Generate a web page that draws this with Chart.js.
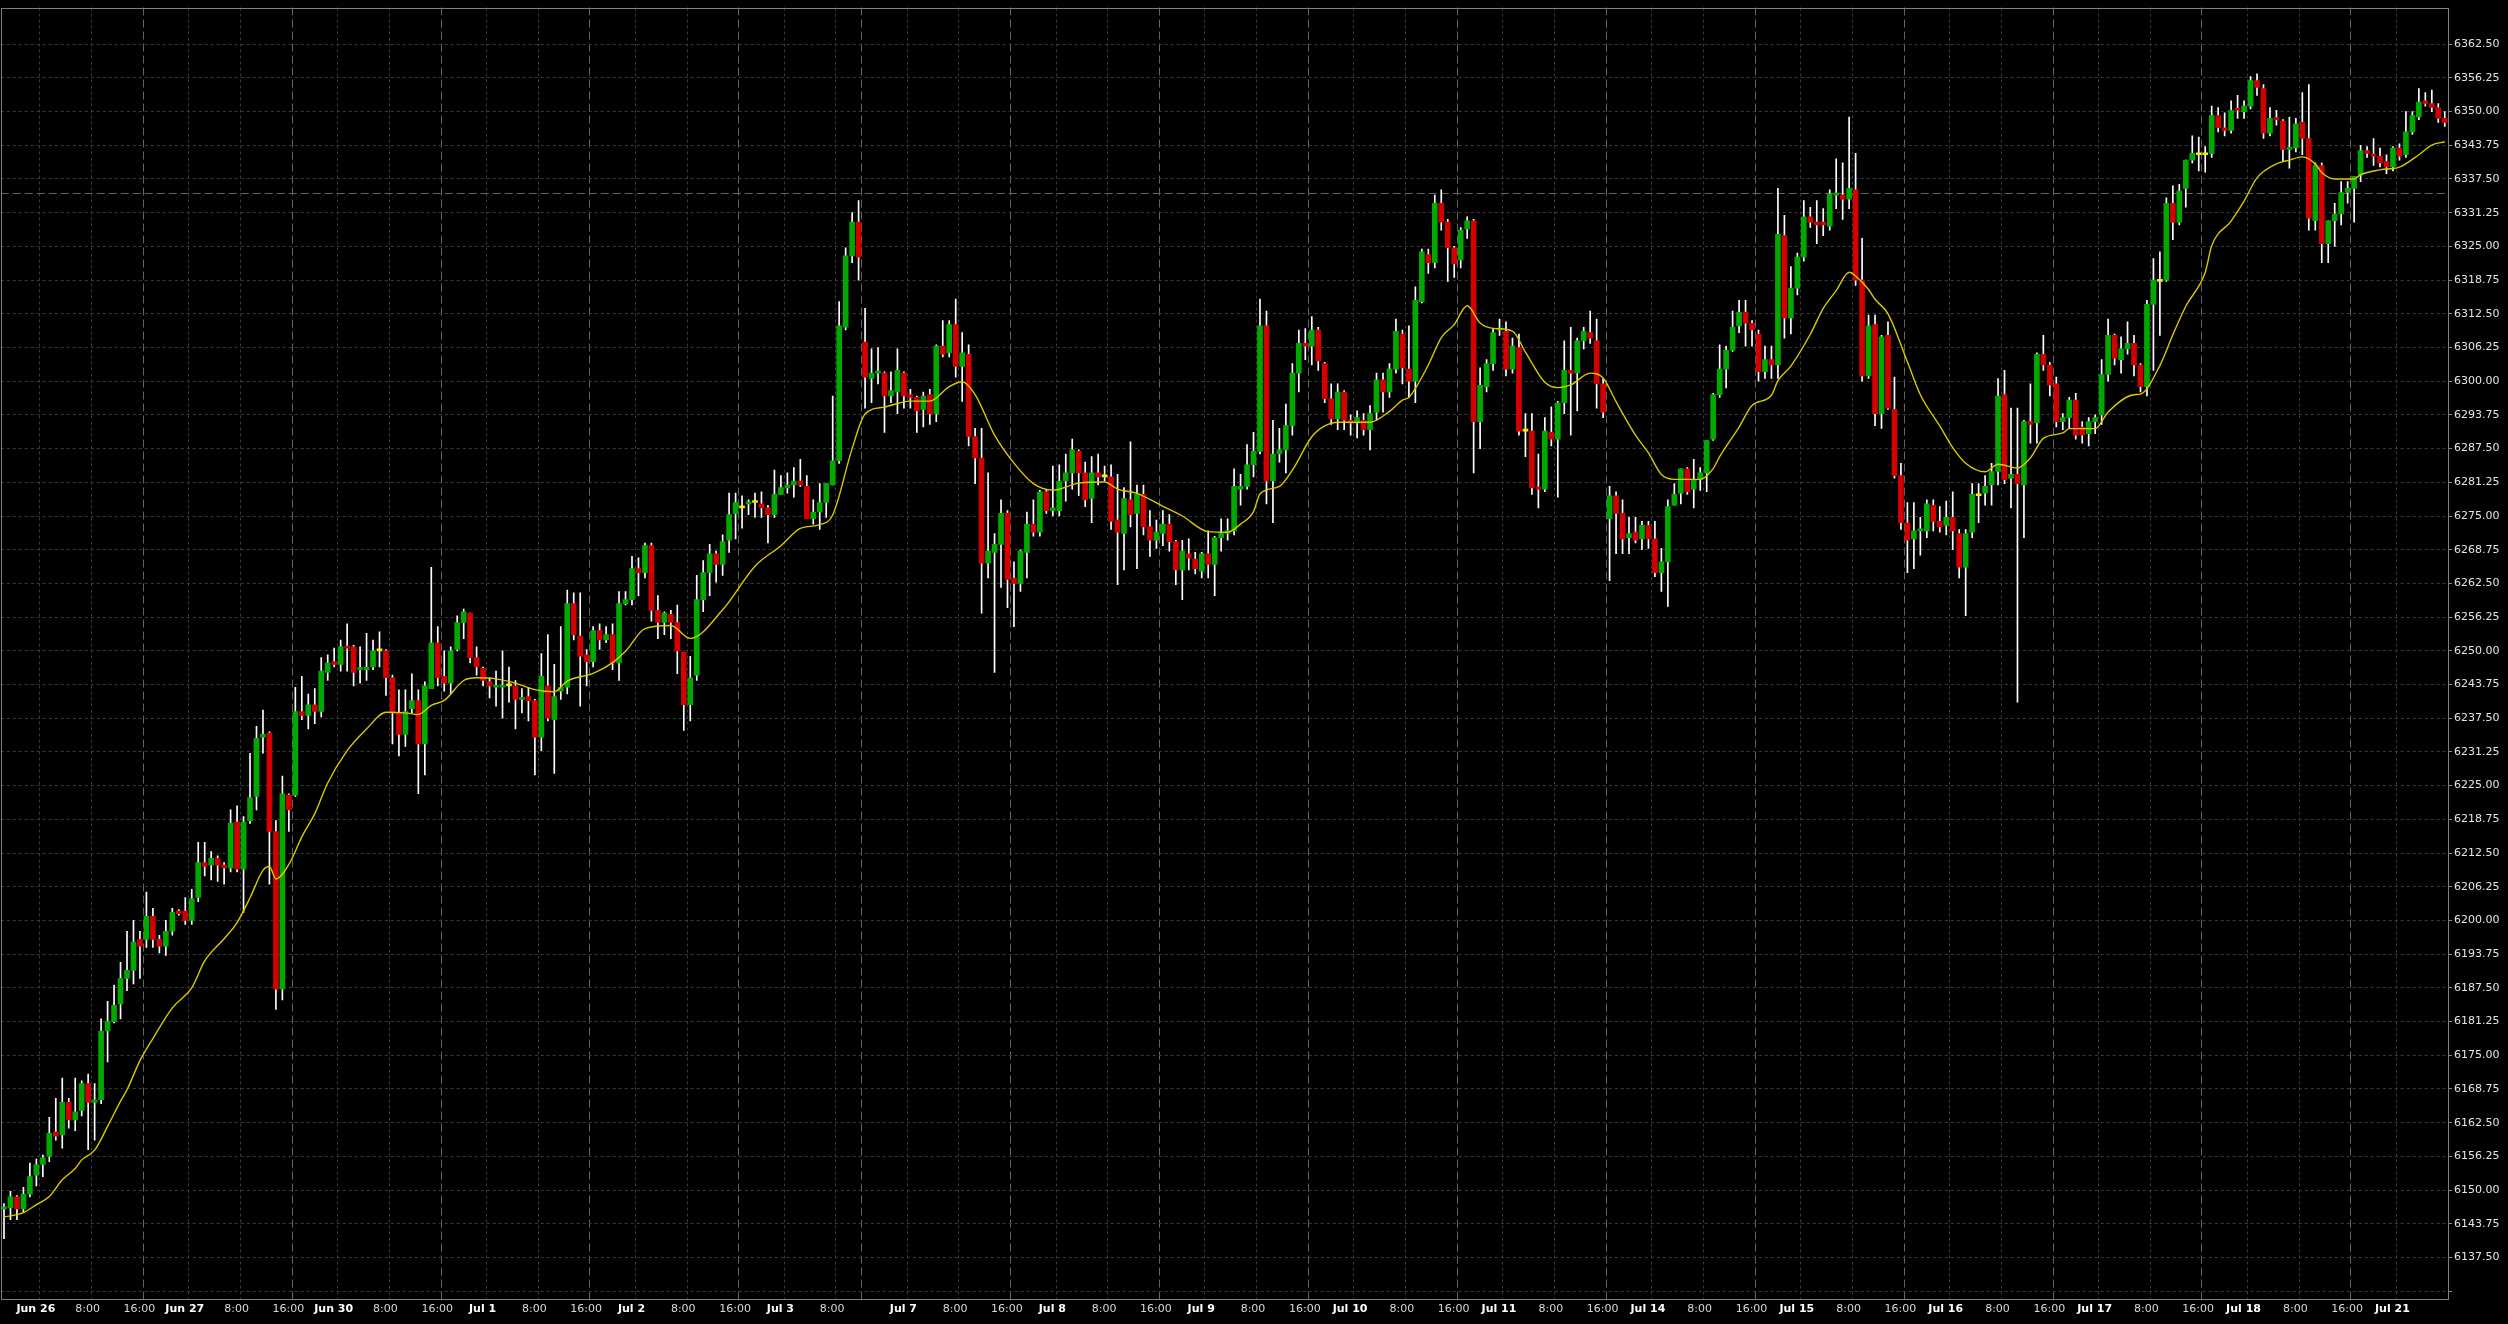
<!DOCTYPE html>
<html><head><meta charset="utf-8">
<script src="https://cdn.jsdelivr.net/npm/chart.js@4.4.1/dist/chart.umd.min.js"></script>
<style>html,body{margin:0;padding:0;background:#000;overflow:hidden}canvas{display:block}</style>
</head><body>
<canvas id="c" width="2508" height="1324"></canvas>
<script>
// ---- hourly candles (Jun 25 evening .. Jul 21) ----
const open = [
6146.5,6146.75,6148.75,6146.5,6149.25,6152.75,6154.75,6156.25,6160.75,6160.25,
6166.25,6163.0,6164.75,6169.75,6166.25,6166.75,6179.5,6181.25,6184.5,6189.25,
6190.75,6196.5,6196.5,6200.75,6196.5,6195.25,6198.0,6201.75,6201.75,6200.0,
6204.25,6210.75,6210.25,6211.5,6210.25,6209.75,6218.25,6209.5,6218.5,6223.0,
6234.0,6234.75,6216.5,6187.25,6223.25,6223.25,6238.75,6238.0,6240.0,6238.75,
6246.0,6248.0,6247.5,6250.75,6250.75,6246.5,6246.5,6247.0,6250.0,6250.0,
6245.0,6238.5,6234.5,6239.25,6240.75,6232.75,6243.0,6251.5,6245.25,6244.0,
6250.25,6255.25,6257.0,6248.75,6246.75,6244.25,6243.25,6243.25,6243.5,6243.5,
6241.0,6241.5,6240.75,6234.0,6243.5,6237.25,6242.5,6243.25,6258.75,6252.75,
6249.25,6248.0,6253.75,6252.0,6253.0,6247.75,6258.75,6259.5,6265.25,6264.5,
6269.5,6257.5,6255.25,6256.75,6255.25,6249.75,6240.0,6245.5,6259.5,6264.5,
6268.0,6266.0,6270.5,6275.5,6276.5,6277.25,6277.5,6277.25,6276.5,6275.25,
6279.0,6280.25,6280.75,6281.5,6280.5,6274.5,6275.75,6277.5,6280.75,6285.25,
6310.0,6323.25,6329.5,6307.25,6300.5,6301.5,6301.5,6297.25,6298.0,6301.5,
6297.5,6297.0,6294.75,6297.5,6294.0,6306.5,6305.25,6310.5,6302.75,6305.0,
6289.75,6285.75,6266.25,6268.25,6269.75,6275.5,6263.5,6262.5,6268.25,6273.5,
6272.0,6279.5,6276.0,6276.0,6281.5,6283.0,6287.0,6283.0,6278.25,6283.0,
6282.25,6282.25,6274.25,6271.75,6278.0,6275.5,6279.0,6273.0,6270.5,6271.75,
6273.5,6270.25,6265.0,6268.0,6267.0,6264.75,6268.0,6266.0,6271.0,6271.75,
6272.25,6280.0,6280.5,6284.5,6287.0,6310.25,6281.5,6286.5,6287.25,6291.75,
6301.5,6307.0,6306.5,6309.5,6303.25,6296.75,6293.0,6298.0,6292.75,6292.25,
6292.75,6291.0,6294.25,6300.25,6298.0,6302.25,6308.75,6302.25,6300.0,6314.75,
6323.5,6322.0,6333.0,6329.5,6324.75,6322.5,6328.25,6329.75,6292.5,6299.0,
6303.25,6309.5,6309.25,6302.25,6306.25,6290.75,6290.75,6280.25,6280.0,6290.5,
6289.25,6296.0,6302.0,6301.5,6307.5,6309.0,6307.5,6299.5,6274.5,6278.75,
6275.5,6271.0,6272.0,6270.75,6273.25,6270.75,6264.5,6266.5,6277.0,6279.25,
6283.75,6280.0,6281.75,6283.0,6289.25,6297.5,6302.25,6305.75,6310.25,6312.75,
6310.75,6308.75,6301.75,6304.0,6303.0,6327.0,6311.75,6317.25,6323.0,6330.5,
6329.5,6329.5,6328.75,6334.5,6334.5,6333.75,6335.5,6318.75,6301.0,6310.5,
6294.0,6308.5,6294.75,6282.5,6273.75,6270.75,6272.25,6272.25,6277.0,6274.0,
6273.25,6274.75,6271.75,6265.5,6272.0,6278.75,6279.25,6280.75,6283.25,6297.5,
6282.0,6282.75,6280.75,6292.5,6292.25,6305.0,6303.0,6299.5,6292.5,6293.25,
6296.5,6291.5,6290.25,6292.5,6293.75,6301.25,6308.5,6304.0,6306.0,6307.0,
6303.0,6299.0,6314.25,6318.5,6318.75,6333.0,6329.5,6335.75,6341.0,6342.0,
6342.0,6342.25,6349.25,6347.0,6346.5,6350.5,6350.0,6351.0,6355.75,6354.25,
6346.0,6348.75,6348.25,6343.0,6343.25,6348.0,6345.0,6329.75,6340.0,6325.5,
6329.75,6331.0,6335.0,6335.75,6338.25,6342.75,6342.0,6341.75,6340.75,6339.75,
6343.25,6342.0,6346.25,6349.0,6352.0,6351.5,6350.75,6348.75];
const high = [
6147.5,6149.75,6149.0,6150.5,6155.0,6155.75,6156.5,6163.5,6167.0,6170.75,
6167.0,6170.75,6170.25,6171.5,6169.75,6181.75,6185.0,6188.0,6192.25,6198.0,
6200.0,6198.0,6205.25,6202.25,6197.25,6200.0,6202.25,6202.0,6204.25,6205.75,
6214.5,6214.5,6212.75,6212.0,6210.75,6220.5,6221.25,6219.25,6231.0,6236.0,
6239.0,6235.0,6218.5,6226.75,6223.5,6243.25,6245.25,6242.0,6243.0,6248.75,
6249.25,6250.5,6252.0,6255.0,6251.0,6250.75,6253.25,6252.0,6253.5,6250.25,
6245.5,6242.75,6242.75,6245.75,6242.75,6244.25,6265.5,6254.5,6250.0,6250.75,
6256.5,6257.75,6257.0,6250.75,6247.0,6245.0,6246.25,6250.0,6247.0,6244.5,
6243.0,6243.25,6241.0,6249.5,6253.0,6247.5,6254.5,6261.25,6260.75,6260.75,
6250.25,6254.5,6255.0,6254.5,6255.0,6261.0,6261.0,6267.5,6267.25,6270.0,
6270.0,6260.25,6257.25,6257.5,6258.5,6249.75,6249.0,6264.0,6266.75,6269.75,
6268.5,6271.5,6279.25,6279.25,6278.75,6278.0,6279.25,6279.5,6277.0,6283.5,
6282.5,6283.0,6284.0,6285.5,6282.5,6278.0,6281.0,6281.0,6297.25,6314.75,
6324.75,6331.25,6333.5,6313.5,6306.0,6306.25,6301.75,6301.75,6306.0,6301.75,
6298.5,6297.25,6298.0,6298.5,6306.75,6311.25,6311.25,6315.25,6309.0,6306.75,
6291.25,6291.25,6283.0,6271.75,6278.0,6276.0,6266.5,6268.75,6275.75,6278.0,
6279.75,6279.75,6284.25,6284.5,6286.5,6289.25,6287.25,6285.0,6286.0,6286.5,
6284.25,6284.5,6282.75,6280.25,6288.75,6280.75,6280.75,6276.0,6274.25,6276.0,
6275.25,6270.5,6270.5,6270.75,6268.25,6268.25,6272.25,6271.25,6274.5,6274.5,
6283.75,6282.75,6288.25,6290.5,6315.25,6313.0,6292.75,6291.25,6295.75,6303.25,
6309.5,6309.75,6312.0,6310.0,6303.5,6299.5,6299.5,6298.25,6293.75,6294.5,
6294.0,6295.5,6301.5,6301.5,6303.25,6311.5,6309.5,6310.25,6317.5,6324.5,
6324.5,6334.5,6335.5,6330.0,6325.0,6328.5,6330.5,6330.0,6302.5,6304.0,
6309.75,6311.5,6311.0,6308.0,6308.75,6294.0,6294.0,6286.5,6293.25,6295.25,
6296.25,6307.5,6310.0,6308.0,6310.0,6313.0,6311.5,6300.5,6280.5,6279.5,
6278.0,6274.75,6274.75,6274.0,6274.0,6274.0,6269.0,6278.0,6281.0,6283.75,
6284.0,6285.5,6284.0,6289.0,6297.75,6306.75,6306.5,6313.0,6315.0,6315.0,
6311.25,6309.5,6306.5,6306.5,6335.75,6330.75,6321.25,6323.75,6333.5,6332.25,
6333.5,6332.0,6335.5,6341.25,6340.5,6349.0,6342.25,6326.5,6312.25,6312.25,
6308.5,6311.0,6300.75,6284.75,6277.5,6277.5,6274.75,6278.0,6278.0,6276.75,
6277.75,6279.5,6272.5,6272.5,6281.0,6281.0,6282.5,6284.75,6300.5,6302.0,
6295.0,6295.0,6292.75,6299.5,6305.25,6308.5,6303.5,6300.75,6294.0,6297.0,
6297.75,6292.5,6293.25,6293.75,6304.0,6311.5,6308.75,6308.25,6311.0,6308.5,
6303.25,6315.0,6322.75,6324.0,6334.0,6336.25,6336.5,6341.0,6345.5,6345.25,
6343.5,6351.0,6350.75,6349.75,6352.0,6353.0,6352.0,6356.5,6357.0,6355.0,
6350.75,6350.25,6348.5,6349.0,6348.75,6353.5,6355.0,6340.5,6340.5,6329.75,
6333.0,6337.0,6337.0,6338.0,6343.75,6343.5,6345.0,6343.25,6342.0,6343.5,
6344.0,6350.0,6350.0,6354.25,6353.5,6354.0,6351.5,6350.0];
const low = [
6141.0,6144.5,6144.5,6146.0,6148.75,6150.75,6152.5,6155.25,6159.25,6157.75,
6161.5,6161.0,6163.75,6157.5,6159.25,6166.0,6173.75,6181.0,6181.75,6187.0,
6188.25,6189.25,6195.0,6195.0,6194.0,6193.5,6197.25,6201.0,6199.25,6199.25,
6203.5,6208.25,6207.5,6207.25,6206.75,6209.0,6209.0,6201.5,6218.0,6220.5,
6231.0,6206.75,6183.5,6185.25,6216.5,6223.0,6237.25,6235.5,6236.5,6237.75,
6244.5,6247.0,6246.25,6246.25,6243.5,6244.0,6244.5,6246.5,6247.0,6241.75,
6232.75,6230.5,6232.25,6238.5,6223.5,6227.0,6243.0,6243.5,6242.5,6242.0,
6250.0,6252.25,6247.75,6245.5,6243.5,6241.25,6239.75,6237.5,6240.5,6235.5,
6238.5,6237.0,6227.0,6231.5,6237.0,6227.25,6241.0,6242.0,6252.0,6239.75,
6243.5,6247.0,6250.25,6251.5,6246.5,6244.5,6258.5,6258.5,6260.25,6263.5,
6255.5,6252.25,6253.0,6252.25,6245.75,6235.25,6237.0,6244.5,6257.25,6260.25,
6262.75,6264.0,6268.25,6270.75,6272.75,6275.25,6274.75,6274.75,6270.0,6274.75,
6279.0,6279.25,6278.5,6280.5,6274.5,6273.5,6272.5,6274.75,6280.75,6284.75,
6309.5,6322.0,6318.75,6295.0,6296.0,6299.5,6290.5,6296.0,6294.0,6295.0,
6295.0,6290.5,6291.5,6292.0,6292.5,6304.5,6304.5,6300.75,6296.25,6288.0,
6281.0,6257.0,6263.5,6246.0,6261.75,6258.0,6254.5,6261.0,6263.5,6271.25,
6271.25,6275.5,6275.0,6275.0,6277.75,6280.0,6278.75,6276.75,6273.75,6280.75,
6281.5,6272.5,6262.25,6265.0,6273.0,6265.25,6271.5,6267.5,6269.0,6269.5,
6268.5,6262.25,6259.5,6265.0,6264.25,6263.5,6263.5,6260.25,6268.5,6270.5,
6271.5,6277.0,6280.0,6282.25,6286.5,6277.25,6273.75,6285.0,6283.0,6290.0,
6298.0,6304.0,6303.0,6302.0,6296.0,6292.0,6291.0,6291.0,6290.0,6289.5,
6290.0,6287.25,6292.75,6294.25,6297.0,6301.5,6299.5,6297.0,6296.0,6314.5,
6320.0,6321.0,6328.0,6318.5,6319.25,6321.0,6326.5,6283.0,6287.5,6298.0,
6302.0,6308.5,6301.0,6301.5,6290.0,6286.0,6279.0,6276.5,6279.5,6288.0,
6278.5,6294.0,6290.0,6294.5,6306.0,6307.0,6295.0,6293.25,6263.0,6268.0,
6268.0,6268.0,6270.0,6268.75,6269.0,6263.75,6261.0,6258.25,6277.0,6277.25,
6279.0,6276.5,6279.75,6279.5,6289.0,6297.0,6298.75,6305.5,6309.0,6306.5,
6306.5,6300.0,6300.5,6300.5,6300.5,6308.0,6308.75,6316.0,6322.25,6328.5,
6325.5,6327.0,6328.0,6332.0,6330.0,6332.0,6317.75,6300.0,6300.5,6291.75,
6291.25,6294.75,6282.0,6272.5,6264.5,6265.25,6267.75,6271.0,6272.25,6272.0,
6271.5,6268.75,6263.5,6256.5,6271.0,6273.75,6277.0,6277.0,6280.75,6281.0,
6276.5,6240.5,6271.0,6288.5,6288.5,6302.0,6297.25,6291.5,6291.0,6291.25,
6289.25,6288.5,6288.0,6290.25,6292.0,6300.0,6303.0,6301.5,6305.0,6301.0,
6298.0,6297.25,6302.0,6308.5,6318.5,6326.25,6329.0,6332.25,6340.5,6339.0,
6338.75,6341.5,6346.25,6345.5,6346.0,6348.75,6348.75,6350.5,6353.0,6345.0,
6345.5,6347.5,6340.75,6339.5,6342.5,6342.0,6328.0,6328.0,6322.0,6322.0,
6325.0,6329.0,6333.0,6329.5,6337.0,6341.5,6340.0,6339.75,6338.5,6339.0,
6341.0,6341.5,6345.75,6348.5,6351.0,6350.0,6348.0,6347.25];
const close = [
6146.75,6148.75,6146.5,6149.25,6152.5,6154.75,6156.0,6160.5,6160.0,6166.25,
6163.0,6164.5,6169.75,6166.25,6166.75,6179.5,6181.25,6184.25,6189.25,6190.75,
6196.0,6195.25,6200.75,6196.5,6195.25,6198.0,6201.5,6201.25,6200.0,6204.0,
6210.75,6210.0,6211.5,6210.25,6209.75,6218.0,6209.5,6218.25,6222.75,6233.75,
6234.5,6216.5,6187.25,6223.5,6220.5,6238.75,6238.0,6240.0,6238.75,6246.25,
6247.75,6247.5,6250.75,6250.5,6246.0,6246.75,6247.0,6250.0,6250.0,6245.0,
6238.5,6234.5,6238.75,6240.75,6232.75,6243.5,6251.5,6245.0,6244.0,6250.0,
6255.25,6257.25,6248.75,6247.0,6244.5,6243.5,6243.5,6243.5,6243.5,6241.0,
6241.25,6240.75,6234.0,6245.25,6237.5,6241.5,6243.25,6258.75,6253.0,6249.0,
6248.0,6253.75,6252.0,6253.0,6247.75,6258.75,6259.5,6265.25,6264.5,6269.5,
6257.5,6255.25,6257.0,6255.25,6250.0,6240.0,6245.0,6259.5,6264.5,6268.0,
6266.0,6270.25,6275.25,6277.5,6276.5,6277.5,6277.5,6276.5,6275.25,6279.0,
6280.25,6280.75,6281.5,6280.75,6274.5,6275.75,6277.5,6281.0,6285.25,6310.25,
6323.25,6329.5,6323.0,6300.75,6301.5,6301.75,6297.25,6298.25,6302.0,6297.25,
6297.0,6294.5,6297.25,6294.0,6306.5,6305.0,6310.5,6302.75,6305.25,6289.75,
6285.75,6266.25,6268.5,6269.75,6275.5,6263.25,6262.5,6268.5,6273.5,6272.0,
6279.5,6276.0,6276.5,6281.5,6283.0,6287.25,6283.0,6278.0,6283.0,6282.25,
6282.25,6274.0,6272.0,6278.25,6275.25,6279.0,6273.0,6270.5,6272.0,6273.5,
6270.25,6265.0,6268.5,6267.25,6265.25,6268.0,6266.0,6271.0,6271.75,6272.25,
6280.5,6280.5,6284.5,6287.0,6310.25,6281.5,6286.5,6287.25,6291.75,6301.5,
6307.0,6306.5,6309.5,6303.75,6296.75,6293.0,6298.0,6292.75,6292.25,6293.25,
6291.0,6294.0,6300.25,6298.0,6302.25,6309.25,6302.5,6300.0,6315.0,6324.0,
6322.0,6333.0,6329.5,6324.75,6321.75,6328.0,6329.75,6292.5,6299.25,6303.25,
6309.0,6309.75,6302.25,6306.5,6290.75,6290.75,6280.25,6280.0,6290.75,6289.25,
6296.0,6302.0,6301.5,6307.5,6309.25,6308.0,6299.5,6294.25,6278.75,6275.5,
6270.75,6271.75,6270.5,6273.25,6270.75,6264.5,6266.5,6276.75,6279.0,6283.75,
6279.5,6281.75,6283.0,6289.0,6297.5,6302.25,6305.75,6310.0,6312.75,6310.75,
6309.5,6301.75,6304.0,6303.0,6327.25,6311.75,6317.25,6323.0,6330.5,6329.5,
6329.0,6329.0,6334.75,6334.75,6333.75,6335.75,6318.75,6301.0,6310.25,6294.0,
6308.25,6295.0,6282.5,6273.75,6270.5,6272.25,6272.5,6277.25,6274.0,6273.0,
6274.75,6272.25,6265.5,6271.75,6279.0,6278.75,6280.5,6283.25,6297.25,6281.75,
6282.75,6281.0,6292.5,6292.0,6305.0,6303.0,6299.25,6292.5,6293.25,6296.5,
6290.0,6290.0,6292.5,6293.25,6301.25,6308.5,6304.25,6306.0,6307.0,6303.0,
6299.0,6314.25,6318.75,6318.5,6333.0,6329.5,6335.25,6341.0,6342.25,6342.0,
6342.0,6349.25,6347.0,6346.5,6350.25,6350.25,6351.0,6355.75,6354.5,6346.0,
6348.75,6348.5,6343.0,6343.25,6347.75,6345.0,6330.25,6340.0,6325.5,6329.75,
6331.0,6335.0,6335.75,6338.0,6342.75,6342.25,6341.75,6340.5,6339.75,6343.25,
6341.75,6346.25,6349.25,6351.75,6351.5,6350.75,6348.75,6348.0];

// moving average read at selected candles: [candle index, value]
const maPoints = [[0,6145.0],[3,6145.8],[5,6147.3],[7,6148.8],[9,6151.9],[11,6154.0],[12,6155.6],[14,6157.4],[16,6161.8],[18,6166.5],[19,6168.6],[21,6174.0],[23,6178.1],[26,6183.8],[29,6187.5],[31,6192.5],[34,6196.6],[36,6199.6],[38,6204.2],[40,6209.3],[41,6210.0],[42,6207.7],[44,6210.4],[46,6215.5],[48,6219.8],[50,6225.5],[53,6231.5],[56,6235.5],[59,6238.6],[62,6238.5],[64,6238.2],[66,6239.9],[68,6240.8],[71,6244.5],[73,6245.0],[76,6244.8],[79,6244.0],[82,6242.8],[85,6242.4],[87,6244.4],[91,6245.8],[94,6247.8],[96,6249.9],[99,6254.1],[103,6254.7],[106,6252.3],[111,6257.6],[116,6265.7],[120,6269.5],[123,6272.7],[126,6273.4],[128,6275.2],[131,6287.5],[133,6293.9],[136,6295.2],[140,6296.3],[143,6296.3],[146,6299.0],[148,6299.9],[150,6297.5],[153,6290.0],[156,6284.8],[159,6281.0],[162,6279.8],[166,6281.1],[170,6281.3],[172,6280.0],[175,6279.2],[179,6276.8],[182,6275.0],[186,6272.1],[189,6272.0],[191,6273.5],[193,6275.8],[194,6279.1],[197,6280.5],[199,6283.5],[202,6289.7],[204,6291.7],[206,6292.4],[211,6292.4],[214,6294.4],[216,6296.5],[217,6297.0],[220,6303.0],[222,6308.1],[224,6310.5],[226,6314.0],[228,6310.8],[230,6309.8],[233,6309.3],[235,6305.4],[238,6299.8],[240,6298.8],[242,6299.3],[245,6301.5],[247,6300.6],[249,6296.2],[252,6290.0],[254,6286.7],[256,6282.7],[258,6281.8],[262,6281.8],[264,6283.8],[265,6286.0],[268,6291.5],[270,6295.5],[273,6297.4],[274,6300.1],[276,6302.8],[279,6308.7],[281,6313.5],[283,6316.8],[285,6320.2],[286,6319.5],[288,6317.0],[289,6315.2],[291,6312.5],[294,6303.6],[296,6297.5],[299,6291.7],[301,6287.7],[303,6284.8],[306,6283.2],[308,6284.6],[311,6283.9],[313,6285.8],[315,6289.4],[318,6290.4],[319,6291.2],[323,6291.2],[325,6294.3],[329,6297.5],[330,6297.6],[333,6302.9],[335,6308.6],[337,6313.9],[340,6320.2],[341,6325.1],[344,6329.7],[346,6333.4],[348,6337.7],[351,6340.3],[353,6341.0],[355,6341.6],[357,6340.3],[358,6338.7],[360,6337.5],[363,6337.5],[364,6338.3],[367,6339.2],[370,6339.7],[373,6342.0],[375,6343.8],[377,6344.4]];

// time axis ticks (candle index -> label)
const xTickIndex = [6,14,22,29,37,45,52,60,68,75,83,91,98,106,114,121,129,133,140,148,156,163,171,179,186,194,202,209,217,225,232,240,248,255,263,271,278,286,294,301,309,317,324,332,340,347,355,363,370];
const xTickText  = ['Jun 26','8:00','16:00','Jun 27','8:00','16:00','Jun 30','8:00','16:00','Jul 1','8:00','16:00','Jul 2','8:00','16:00','Jul 3','8:00','','Jul 7','8:00','16:00','Jul 8','8:00','16:00','Jul 9','8:00','16:00','Jul 10','8:00','16:00','Jul 11','8:00','16:00','Jul 14','8:00','16:00','Jul 15','8:00','16:00','Jul 16','8:00','16:00','Jul 17','8:00','16:00','Jul 18','8:00','16:00','Jul 21'];
const xSessionIndex = [22,45,68,91,114,133,156,179,202,225,248,271,294,317,340,363];

// price axis
const yTickValues = [6131.25,6137.5,6143.75,6150,6156.25,6162.5,6168.75,6175,6181.25,6187.5,6193.75,6200,6206.25,6212.5,6218.75,6225,6231.25,6237.5,6243.75,6250,6256.25,6262.5,6268.75,6275,6281.25,6287.5,6293.75,6300,6306.25,6312.5,6318.75,6325,6331.25,6337.5,6343.75,6350,6356.25,6362.5];
const yUnlabeled = [6131.25];
const levelLine = 6334.75;
const yMin = 6129.8, yMax = 6369.3;

// ---- styling ----
const UP = '#00a800', DOWN = '#d40000', DOJI = '#f0f000', WICK = '#ffffff', MA = '#d8c800';
const DIM = '#3a3a3a', BRIGHT = '#646464', FRAME = '#808080';

const N = open.length;
const cats = open.map((_, i) => i);
const bodies = open.map((o, i) => [o, close[i]]);
const wicks = low.map((l, i) => [l, high[i]]);
const bodyColors = open.map((o, i) => close[i] > o ? UP : (close[i] < o ? DOWN : DOJI));
const maData = new Array(N).fill(null);
maPoints.forEach(([i, v]) => { maData[i] = v; });
const xLabelAt = {};
xTickIndex.forEach((k, j) => { xLabelAt[k] = xTickText[j]; });
const sessionSet = new Set(xSessionIndex);
const isDate = t => /^[A-Z]/.test(t || '');
const allY = yTickValues.concat([levelLine]).sort((a, b) => a - b);

const framePlugin = {
  id: 'frame',
  beforeDraw(chart) {
    const c = chart.ctx; c.save(); c.fillStyle = '#000'; c.fillRect(0, 0, chart.width, chart.height); c.restore();
  },
  afterDraw(chart) {
    const c = chart.ctx, a = chart.chartArea;
    c.save(); c.strokeStyle = FRAME; c.lineWidth = 1;
    c.strokeRect(Math.round(a.left) + 0.5, Math.round(a.top) + 0.5, Math.round(a.right) - Math.round(a.left) - 0, Math.round(a.bottom) - Math.round(a.top));
    c.restore();
  }
};

new Chart(document.getElementById('c'), {
  type: 'bar',
  data: {
    labels: cats,
    datasets: [
      { type: 'line', data: maData, borderColor: MA, borderWidth: 1.4, pointRadius: 0, spanGaps: true, cubicInterpolationMode: 'monotone', order: 0 },
      { type: 'bar', data: bodies, backgroundColor: bodyColors, barThickness: 5, grouped: false, minBarLength: 2, borderWidth: 0, order: 1 },
      { type: 'bar', data: wicks, backgroundColor: WICK, barThickness: 1, grouped: false, borderWidth: 0, order: 2 }
    ]
  },
  options: {
    responsive: false, animation: false, devicePixelRatio: 1, events: [],
    layout: { padding: { top: 6, left: 0, right: 0, bottom: 0 } },
    plugins: { legend: { display: false }, tooltip: { enabled: false } },
    scales: {
      x: {
        type: 'category', offset: true,
        afterFit: s => { s.height = 25; },
        grid: {
          offset: true, drawTicks: false, lineWidth: 1,
          color: c => (c.index in xLabelAt) ? (sessionSet.has(c.index) ? BRIGHT : DIM) : 'rgba(0,0,0,0)'
        },
        border: { display: false, dash: c => sessionSet.has(c.index) ? [8, 4] : [3, 3] },
        ticks: {
          autoSkip: false, maxRotation: 0, minRotation: 0, padding: 4, labelOffset: -7,
          callback: (v, i) => xLabelAt[i] ?? '',
          color: c => isDate(xLabelAt[c.index]) ? '#ffffff' : '#d8d8d8',
          font: c => ({ family: 'DejaVu Sans', size: 11, weight: isDate(xLabelAt[c.index]) ? 'bold' : 'normal', lineHeight: 1.2 })
        }
      },
      y: {
        position: 'right', min: yMin, max: yMax,
        afterBuildTicks: s => { s.ticks = allY.map(v => ({ value: v })); },
        afterFit: s => { s.width = 60; },
        grid: {
          lineWidth: 1, drawTicks: true, tickLength: 4,
          color: c => (c.tick && c.tick.value === levelLine) ? BRIGHT : DIM,
          tickColor: c => (c.tick && c.tick.value === levelLine) ? 'rgba(0,0,0,0)' : '#8a8a8a'
        },
        border: { display: false, dash: c => (c.tick && c.tick.value === levelLine) ? [8, 4] : [3, 3] },
        ticks: {
          padding: 2, color: '#e4e4e4',
          font: { family: 'DejaVu Sans', size: 11, lineHeight: 1 },
          callback: v => (v === levelLine || yUnlabeled.includes(v)) ? '' : Number(v).toFixed(2)
        }
      }
    }
  },
  plugins: [framePlugin]
});
</script>
</body></html>
